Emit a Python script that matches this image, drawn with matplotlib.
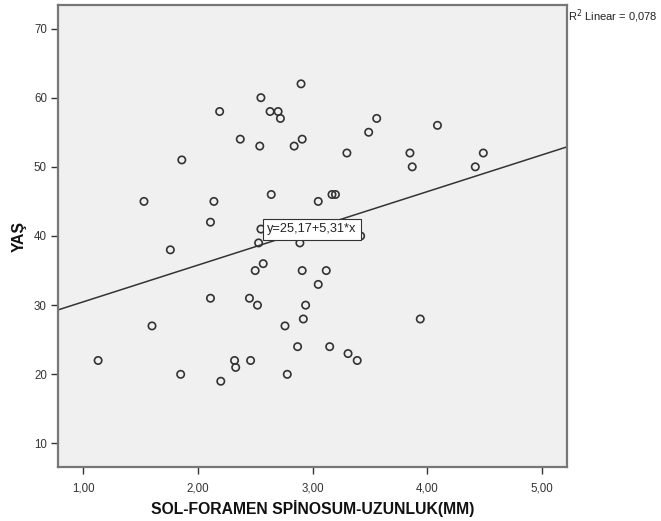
import matplotlib
matplotlib.use("Agg")
import matplotlib.pyplot as plt
import numpy as np

plt.rcParams['font.family'] = ['Liberation Sans', 'DejaVu Sans']

x_vals = [1.53, 1.86, 2.19, 2.11, 2.14, 1.76, 2.37, 2.54, 2.55, 2.63,
          2.70, 2.72, 2.90, 2.84, 2.91, 2.64, 3.05, 3.17, 3.20, 2.55,
          2.53, 2.89, 3.56, 3.49, 4.09, 3.30, 3.85, 3.87, 4.49, 4.42,
          3.42, 2.57, 2.50, 2.91, 3.12, 3.05, 2.45, 2.52, 2.94, 2.92,
          2.11, 1.60, 1.13, 1.85, 2.20, 2.32, 2.33, 2.46, 2.76, 2.78,
          2.87, 3.15, 3.31, 3.39, 3.94]
y_vals = [45, 51, 58, 42, 45, 38, 54, 53, 60, 58,
          58, 57, 62, 53, 54, 46, 45, 46, 46, 41,
          39, 39, 57, 55, 56, 52, 52, 50, 52, 50,
          40, 36, 35, 35, 35, 33, 31, 30, 30, 28,
          31, 27, 22, 20, 19, 22, 21, 22, 27, 20,
          24, 24, 23, 22, 28]

intercept = 25.17
slope = 5.31
r2 = 0.078

x_ticks = [1, 2, 3, 4, 5]
x_tick_labels = ["1,00", "2,00", "3,00", "4,00", "5,00"]
y_ticks = [10, 20, 30, 40, 50, 60, 70]

W, H = 661, 521
fig = plt.figure(figsize=(W / 100, H / 100), dpi=100)
ax = fig.add_axes([58 / W, 1 - 467 / H, (567 - 58) / W, (467 - 5) / H])
ax.set_facecolor('#F0F0F0')

xmin, xmax = 0.78, 5.22
ax.set_xlim(xmin, xmax)
ax.set_ylim(6.6, 73.4)

ax.scatter(x_vals, y_vals, s=28, facecolors='none', edgecolors='#333333',
           linewidths=1.2, zorder=3)

lx = np.array([xmin, xmax])
ax.plot(lx, intercept + slope * lx, color='#333333', lw=1.1, zorder=2)

ax.text(2.994, 41.0, "y=25,17+5,31*x", fontsize=9.2, color='#222222',
        ha='center', va='center', zorder=4,
        bbox=dict(boxstyle='square,pad=0.35', facecolor='white',
                  edgecolor='#333333', linewidth=0.8))

ax.set_xticks(x_ticks)
ax.set_xticklabels(x_tick_labels)
ax.set_yticks(y_ticks)
ax.tick_params(axis='both', labelsize=8.3, colors='#333333', length=5,
               width=1.0, direction='out', pad=3)
ax.tick_params(axis='x', pad=6)

for sp in ax.spines.values():
    sp.set_color('#777777')
    sp.set_linewidth(1.6)

ax.set_xlabel("SOL-FORAMEN SPİNOSUM-UZUNLUK(MM)", fontsize=11.3,
              fontweight='bold', color='#111111', labelpad=4)
ax.set_ylabel("YAŞ", fontsize=11.3, fontweight='bold', color='#111111',
              labelpad=5)

fig.text(568 / W, 1 - 20 / H, "R$^2$ Linear = 0,078", fontsize=8,
         color='#222222', ha='left', va='baseline')

fig.savefig("out.png", dpi=100)
